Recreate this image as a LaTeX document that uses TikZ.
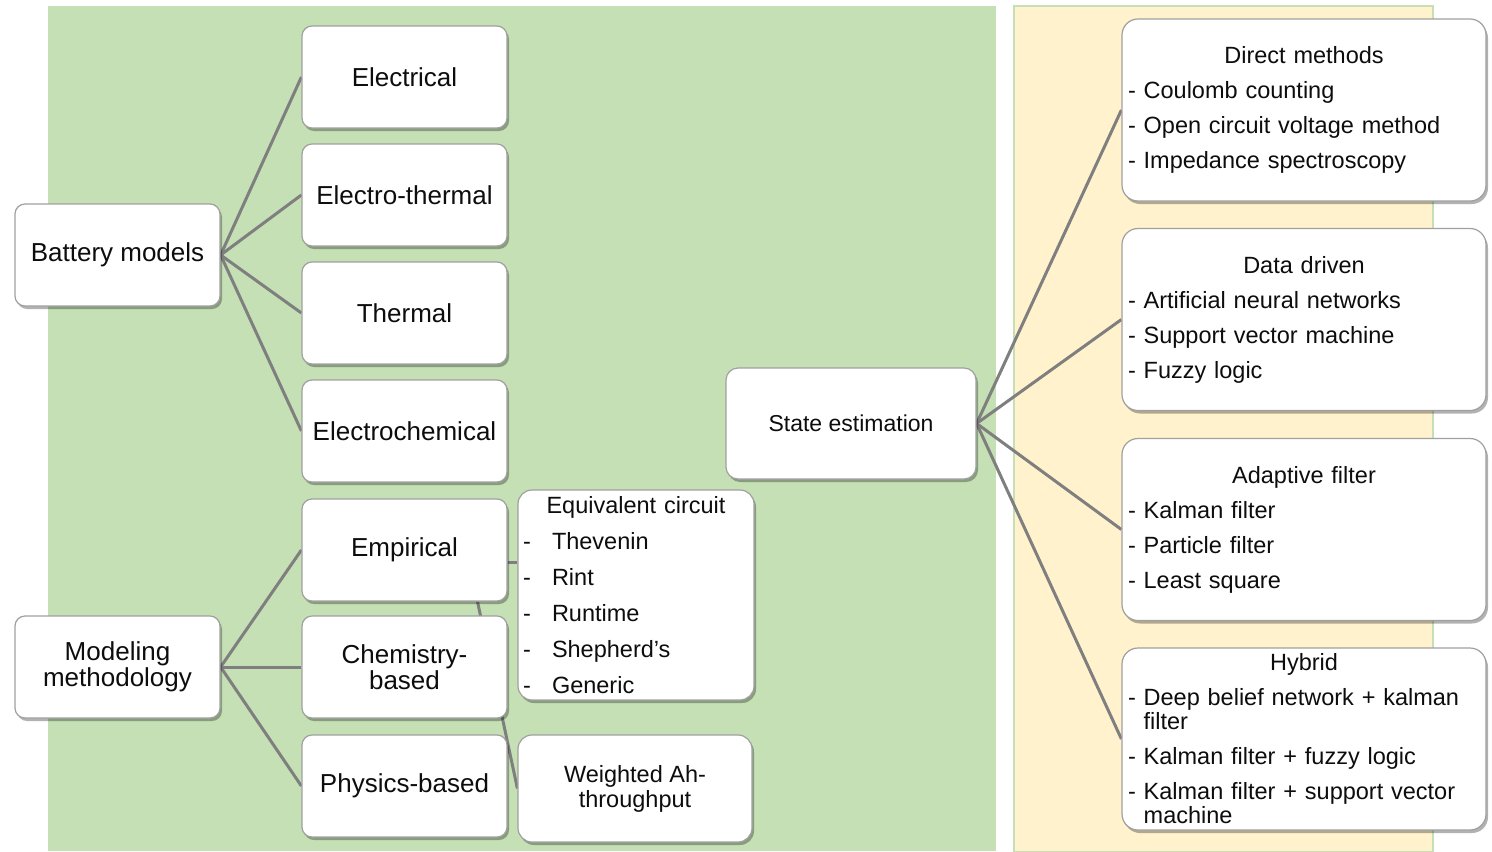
\documentclass[tikz,border=0pt]{standalone}
\usepackage{fontspec}
\setmainfont{Liberation Sans}
\usetikzlibrary{shadows}
\definecolor{panelgreen}{HTML}{C5E0B4}
\definecolor{panelyellow}{HTML}{FFF2CC}
\definecolor{linkgray}{HTML}{7F7F7F}
\definecolor{boxgray}{HTML}{A0A0A0}
\definecolor{inkblack}{HTML}{0D0D0D}
\pgfdeclarelayer{panels}
\pgfdeclarelayer{links}
\pgfsetlayers{panels,links,main}
% one bullet entry with a hanging indent after the dash
\newcommand{\entry}[1]{\par\setbox0\hbox{- }\hangindent=\wd0 \hangafter=1 \noindent\box0 #1}
\newcommand{\wrap}{\hfil\break}
\newcommand{\dashitem}[1]{\par\noindent\makebox[14.5pt][l]{-}#1}
\tikzset{
  box/.style={draw=boxgray, line width=0.6pt, fill=white, rounded corners=5pt,
    drop shadow={shadow xshift=1pt, shadow yshift=-1.5pt, opacity=0.3, fill=black},
    inner sep=0pt, text=inkblack},
  bigbox/.style={box, minimum width=102.5pt, minimum height=51pt, align=center,
    font=\fontsize{13}{13}\selectfont},
  listbox/.style={box, rounded corners=8pt, minimum width=182pt, minimum height=91pt,
    inner xsep=3pt, text width=176pt, align=left,
    font=\fontsize{11.75}{12}\selectfont\setlength{\parskip}{5.5pt}},
  link/.style={draw=linkgray, line width=1.5pt},
}
\begin{document}
\begin{tikzpicture}[x=0.5pt,y=-0.5pt]
\useasboundingbox (0,0) rectangle (1492,851);

% models column
\node[bigbox] (bat) at (117.5,255) {Battery models};
\node[bigbox] (ele) at (404.5,77) {Electrical};
\node[bigbox] (elt) at (404.5,195) {Electro-thermal};
\node[bigbox] (thm) at (404.5,313) {Thermal};
\node[bigbox] (elc) at (404.5,431) {Electrochemical};
\node[bigbox] (mod) at (117.5,667) {Modeling\\methodology};
\node[bigbox] (emp) at (404.5,550) {Empirical};
\node[bigbox] (che) at (404.5,667) {Chemistry-\\based};
\node[bigbox] (phy) at (404.5,786) {Physics-based};

\node[box, rounded corners=7pt, minimum width=118pt, minimum height=105pt,
  inner xsep=2.5pt, text width=113pt, align=left,
  font=\fontsize{11.75}{18}\selectfont] (eqc) at (636,595)
  {{\centering Equivalent circuit\par}
   \dashitem{Thevenin}\dashitem{Rint}\dashitem{Runtime}\dashitem{Shepherd’s}\dashitem{Generic}};
\node[box, rounded corners=7pt, minimum width=117pt, minimum height=53.5pt, align=center,
  font=\fontsize{11.75}{12.5}\selectfont] (wah) at (635,788.5) {Weighted Ah-\\throughput};

% estimation column
\node[box, rounded corners=6pt, minimum width=125pt, minimum height=55.5pt, align=center,
  font=\fontsize{11.5}{12}\selectfont] (est) at (851,423.5) {State estimation};

\node[listbox] (dir) at (1304,110)
  {{\centering Direct methods\par}
   \entry{Coulomb counting}\entry{Open circuit voltage method}\entry{Impedance spectroscopy}\par};
\node[listbox] (dat) at (1304,319.5)
  {{\centering Data driven\par}
   \entry{Artificial neural networks}\entry{Support vector machine}\entry{Fuzzy logic}\par};
\node[listbox] (ada) at (1304,529.5)
  {{\centering Adaptive filter\par}
   \entry{Kalman filter}\entry{Particle filter}\entry{Least square}\par};
\node[listbox] (hyb) at (1304,739)
  {{\centering Hybrid\par}
   \entry{Deep belief network + kalman\wrap filter}\entry{Kalman filter + fuzzy logic}%
   \entry{Kalman filter + support vector\wrap machine}\par};

% coloured panels
\begin{pgfonlayer}{panels}
  \fill[white] (0,0) rectangle (1492,851);
  \fill[panelgreen] (48,6) rectangle (996,851);
  \filldraw[fill=panelyellow, draw=panelgreen, line width=1pt] (1014,6) rectangle (1433,852);
\end{pgfonlayer}

% connectors
\begin{pgfonlayer}{links}
  \foreach \t in {ele,elt,thm,elc} \draw[link] (bat.east) -- (\t.west);
  \foreach \t in {emp,che,phy} \draw[link] (mod.east) -- (\t.west);
  \foreach \t in {dir,dat,ada,hyb} \draw[link] (est.east) -- (\t.west);
  \draw[link] ([yshift=-6pt]emp.east) -- ([yshift=-6pt]emp.east -| eqc.west);
  \draw[link] ([xshift=36.5pt]emp.south) -- (wah.west);
\end{pgfonlayer}
\end{tikzpicture}
\end{document}
